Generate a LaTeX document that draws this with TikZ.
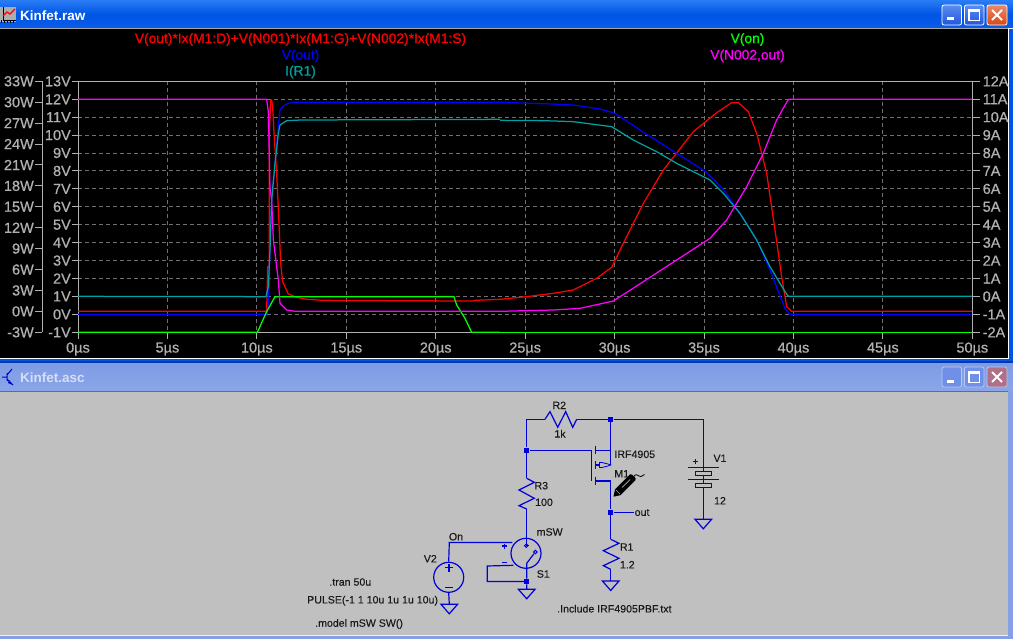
\documentclass[tikz,border=0pt]{standalone}
\usepackage{fontspec}
\setmainfont{Liberation Sans}
\newfontfamily\plotfont[FakeBold=0.7]{Liberation Sans}
\newfontfamily\schemfont[FakeBold=0.15]{Liberation Sans}
\usetikzlibrary{calc}
\definecolor{wire}{HTML}{0000D8}
\definecolor{cya}{HTML}{00A0A0}
\definecolor{axisc}{HTML}{B0B0B0}
\definecolor{gridc}{HTML}{707070}
\definecolor{grn}{HTML}{00FF00}
\definecolor{mag}{HTML}{FF00FF}
\definecolor{schem}{HTML}{C0C0C0}
\definecolor{schtxt}{HTML}{181818}
\definecolor{barA}{HTML}{2A7DF5}
\definecolor{barB}{HTML}{0055E5}
\definecolor{barC}{HTML}{0A5CE8}
\definecolor{edgeA}{HTML}{0055E5}
\definecolor{edgeB}{HTML}{0038B0}
\definecolor{barD}{HTML}{7F9BE4}
\definecolor{barE}{HTML}{8AA6E8}
\definecolor{edgeC}{HTML}{85A0E4}
\definecolor{lineW}{HTML}{F0F0F8}
\definecolor{btnA}{HTML}{5C8DF0}
\definecolor{btnB}{HTML}{2255DD}
\definecolor{btnC}{HTML}{EE8866}
\definecolor{btnD}{HTML}{D84818}
\definecolor{btnE}{HTML}{6F8FE8}
\definecolor{btnF}{HTML}{B07088}
\definecolor{btnG}{HTML}{B8C8F0}
\definecolor{iconb}{HTML}{0000C8}
\tikzset{
 axisline/.style={draw=axisc,line width=1pt},
 gridline/.style={draw=gridc,line width=1pt,dash pattern=on 4pt off 3pt},
 curve/.style={line width=1.25pt,line join=round},
 axlabel/.style={text=axisc,inner sep=0pt,font=\plotfont\fontsize{14.5}{15}\selectfont},
 trlabel/.style={inner sep=0pt,font=\plotfont\fontsize{13.8}{15}\selectfont},
 tlabel/.style={inner sep=0pt,text=schtxt,font=\schemfont\fontsize{10.6}{12}\selectfont},
 wr/.style={draw=wire,line width=1.2pt,line join=miter},
 junc/.style={rectangle,fill=wire,minimum size=5.5pt,inner sep=0pt},
 winbtn/.style={rounded corners=2pt,draw=white,line width=0.8pt},
 gnd/.style={draw=wire,line width=1.2pt,line join=miter},
 titletext/.style={inner sep=0pt,anchor=west,font=\bfseries\fontsize{13.5}{15}\selectfont},
}
\begin{document}
\begin{tikzpicture}[x=1pt,y=-1pt]
\useasboundingbox (0,0) rectangle (1013,639);
% window frames
\fill[black] (0,29) rectangle (1008,358);
\fill[white] (0,358) rectangle (1008,359.3);
\fill[white] (1008,29) rectangle (1009,359.3);
\fill[top color=barA,bottom color=barC,middle color=barB] (0,0) rectangle (1013,28);
\fill[gray!70] (0,28) rectangle (1008,29.3);
\fill[edgeA] (1009,29) rectangle (1013,360);
\fill[edgeA] (0,359.3) rectangle (1013,361);
\fill[edgeB] (0,361) rectangle (1013,363.5);
\fill[top color=barD,bottom color=barE] (0,363.5) rectangle (1013,391);
\fill[gray!85!black] (0,391) rectangle (1008,392.3);
\fill[schem] (0,392.3) rectangle (1008,635);
\fill[edgeC] (1008,391) rectangle (1013,639);
\fill[lineW] (0,635) rectangle (1008,636);
\fill[edgeC] (0,636) rectangle (1013,639);
% title bar 1
\node[titletext,text=white] (title1) at (20,16) {Kinfet.raw};
\fill[gray!65] (0,7) rectangle (16,22);
\foreach \px in {1,4,...,15} {\fill[black] (\px,20) rectangle (\px+1,23);}
\draw[black,line width=0.7pt] (3,7)--(3,20)--(16,20);
\draw[red,line width=1.2pt] (3,16)--(7,12)--(10,14)--(15,9);
\node[titletext,text=btnG!60!white] (title2) at (20,378) {Kinfet.asc};
% transistor icon
\draw[iconb,line width=1pt] (2,377)--(7,377) (7,373)--(7,381) (7,375)--(12,369) (7,379)--(13,385);
\fill[iconb] (9,380) -- (13,385) -- (8,383) -- cycle;
% buttons window 1
\foreach \bx in {942,964.5} {
 \draw[winbtn,top color=btnA,bottom color=btnB] (\bx,5) rectangle (\bx+19.5,25);
}
\draw[winbtn,top color=btnC,bottom color=btnD] (987,5) rectangle (1007,25);
\fill[white] (946.5,17.5) rectangle (953.5,20.5);
\draw[white,line width=1.2pt] (969,10) rectangle (979.5,20.5);
\fill[white] (969,9.5) rectangle (979.5,12);
\draw[white,line width=2pt] (992,10)--(1002,20) (1002,10)--(992,20);
% buttons window 2
\foreach \bx in {942,964.5} {
 \draw[winbtn,draw=btnG,fill=btnE] (\bx,367) rectangle (\bx+19.5,387);
}
\draw[winbtn,draw=btnG,fill=btnF] (987,367) rectangle (1007,387);
\fill[white] (946.5,379.5) rectangle (953.5,382.5);
\draw[white,line width=1.2pt] (969,372) rectangle (979.5,382.5);
\fill[white] (969,371.5) rectangle (979.5,374);
\draw[white,line width=2pt] (992,372)--(1002,382) (1002,372)--(992,382);
% grid
\foreach \k in {1,...,13} {\draw[gridline] (78,{81.3+\k*17.93})--(972.3,{81.3+\k*17.93});}
\foreach \k in {1,...,9} {\draw[gridline] ({78+\k*89.43},81.3)--({78+\k*89.43},332.3);}
% axes
\draw[axisline] (78,81.3) rectangle (972.3,332.3);
\draw[axisline] (42,81.3)--(42,332.3);
\foreach \k [evaluate=\k as \valV using int(13-\k),evaluate=\k as \valA using int(12-\k)] in {0,...,14} {
 \draw[axisline] (72,{81.3+\k*17.93})--(78,{81.3+\k*17.93});
 \draw[axisline] (972.3,{81.3+\k*17.93})--(980,{81.3+\k*17.93});
 \node[axlabel,anchor=east] (vl\k) at (71,{81.3+\k*17.93}) {\valV V};
 \node[axlabel,anchor=west] (al\k) at (982.5,{81.3+\k*17.93}) {\valA A};
}
\foreach \k [evaluate=\k as \valW using int(33-3*\k)] in {0,...,12} {
 \draw[axisline] (35,{81.3+\k*20.917})--(42,{81.3+\k*20.917});
 \node[axlabel,anchor=east] (wl\k) at (34,{81.3+\k*20.917}) {\valW W};
}
\foreach \k [evaluate=\k as \valT using int(5*\k)] in {0,...,10} {
 \draw[axisline] ({78+\k*89.43},332.3)--({78+\k*89.43},339.5);
 \node[axlabel] (xl\k) at ({78+\k*89.43},349) {\valT µs};
}
% curves, left half
\begin{scope}[shift={(230,90)},x=0.33333pt,y=-0.33333pt]
\draw[curve,red] (-456,664)--(110,664)--(113,530)--(118,530)--(118,130)--(122,30)--(125,30)--(128,50)--(132,130)--(140,250)--(147,400)--(152,520)--(158,575)--(175,612)--(200,622)--(230,628)--(280,631)--(700,633)--(730,633)--(735,631)--(810,628);
\draw[curve,blue] (-456,673)--(110,673)--(115,640)--(120,480)--(125,330)--(135,220)--(143,130)--(150,60)--(160,48)--(175,40)--(190,37)--(810,37);
\draw[curve,cya] (-456,619)--(108,620)--(115,590)--(120,480)--(125,330)--(135,220)--(145,130)--(150,105)--(170,92)--(213,90)--(810,88);
\draw[curve,grn] (-456,727)--(82,727)--(110,665)--(135,620)--(672,620)--(680,645)--(705,685)--(725,727)--(810,727);
\draw[curve,mag] (-456,28)--(110,28)--(115,65)--(120,295)--(125,330)--(130,450)--(145,570)--(150,640)--(170,660)--(195,664)--(810,664);
\end{scope}
% curves, right half
\begin{scope}[shift={(500,90)},x=0.33333pt,y=-0.33333pt]
\draw[curve,red] (0,628)--(80,620)--(160,610)--(220,600)--(290,565)--(335,532)--(370,460)--(430,340)--(490,240)--(580,125)--(650,68)--(695,38)--(715,38)--(745,65)--(770,130)--(800,250)--(825,420)--(845,560)--(860,650)--(875,664)--(1416,664);
\draw[curve,blue] (0,37)--(160,42)--(220,45)--(300,57)--(345,70)--(420,120)--(530,190)--(620,247)--(670,298)--(720,370)--(770,450)--(810,540)--(855,655)--(870,673)--(1416,673);
\draw[curve,cya] (0,91)--(130,92)--(220,95)--(335,110)--(400,150)--(470,185)--(530,220)--(630,270)--(670,310)--(720,370)--(770,450)--(810,530)--(855,605)--(865,619)--(1416,619);
\draw[curve,grn] (0,727)--(1416,727);
\draw[curve,mag] (0,664)--(160,660)--(240,655)--(340,633)--(430,575)--(530,510)--(630,445)--(680,390)--(740,290)--(790,190)--(830,90)--(865,28)--(1416,28);
\end{scope}
% trace labels
\node[trlabel,text=red] (t1) at (300.5,39.5) {V(out)*Ix(M1:D)+V(N001)*Ix(M1:G)+V(N002)*Ix(M1:S)};
\node[trlabel,text=blue] (t2) at (300.5,56) {V(out)};
\node[trlabel,text=cya] (t3) at (300.5,72) {I(R1)};
\node[trlabel,text=grn] (t4) at (747.5,39.5) {V(on)};
\node[trlabel,text=mag] (t5) at (747.5,56) {V(N002,out)};
% schematic nodes
\node[junc] (jtop) at (610.7,419.3) {};
\node[junc] (jgate) at (526.7,450.3) {};
\node[junc] (jout) at (610.7,512.3) {};
\node[junc] (jsw) at (526.7,581.5) {};
\coordinate (tl) at (526.7,419.3);
\coordinate (tr) at (703.3,419.3);
\coordinate (r2a) at (545,419.3);
\coordinate (r2b) at (576.7,419.3);
\coordinate (g1) at (591.7,450.3);
\coordinate (g2) at (591.7,481);
\coordinate (dd) at (610.7,450.3);
\coordinate (bb) at (610.7,465);
\coordinate (ss) at (610.7,481);
\coordinate (r1a) at (610.7,539.3);
\coordinate (r1b) at (610.7,569.3);
\coordinate (g1top) at (610.7,581);
\coordinate (outend) at (634,512.3);
\coordinate (v1a) at (703.3,467.3);
\coordinate (v1b) at (703.3,487.3);
\coordinate (g2top) at (703.3,519.3);
\coordinate (r3a) at (526.7,478.3);
\coordinate (r3b) at (526.7,509);
\coordinate (swtop) at (526.7,545.7);
\coordinate (swlev) at (526.7,563.3);
\coordinate (g3top) at (526.7,589.3);
\coordinate (on) at (449.3,542.5);
\coordinate (swp) at (512.3,542.5);
\coordinate (swn) at (513.3,565.3);
\coordinate (nc1) at (487.3,566);
\coordinate (nc2) at (487.3,581.5);
\coordinate (v2bot) at (449.3,604.3);
% circles
\node[circle,draw=wire,line width=1.2pt,minimum size=30pt,inner sep=0pt] (sw) at (526,553.3) {};
\node[circle,draw=wire,line width=1.2pt,minimum size=30pt,inner sep=0pt] (v2) at (448.7,577.3) {};
\node[circle,draw=wire,line width=1pt,minimum size=3.5pt,inner sep=0pt] (ct1) at (526.3,545.7) {};
\node[circle,draw=wire,line width=1pt,minimum size=3.5pt,inner sep=0pt] (ct2) at (535.3,552) {};
% wires
\draw[wr] (r2a)--(tl)--(jgate) (r2b)--(jtop)--(tr)--(v1a);
\draw[wr] (jgate)--(g1)--(g2);
\draw[wr] (jtop)--(dd)--(bb) (ss)--(jout)--(r1a) (jout)--(outend) (r1b)--(g1top);
\draw[wr] (jgate)--(r3a) (r3b)--(swtop)--(ct1);
\draw[wr] (ct2)--(swlev)--(jsw)--(g3top);
\draw[wr] (v2.north)--(on)--(swp);
\draw[wr] (swn)--(nc1)--(nc2)--(jsw);
\draw[wr] (v2.south)--(v2bot);
\draw[wr] (v1a)--(v1b)--(g2top);
% resistors
\draw[wr] (r2a)--(550,411.6)--(557.7,427.3)--(565.7,411.6)--(572.7,427.3)--(r2b);
\draw[wr] (r3a)--(534.3,482.3)--(519,490)--(534.3,498.3)--(519,505.7)--(r3b);
\draw[wr] (r1a)--(619,543.3)--(603.3,550.7)--(619,558.3)--(603.3,565.7)--(r1b);
% mosfet
\draw[wr] (595.7,445.7)--(595.7,454.3) (595.7,461)--(595.7,469) (595.7,476.7)--(595.7,485);
\draw[wr] (595.7,450.3)--(dd) (595.7,481)--(ss);
\draw[wr] (595.7,465)--(599.5,465);
\draw[wr,line width=0.8pt,fill=schem] (603,462.8)--(599.5,462.8)--(599.5,467.2)--(603,467.2);
\draw[wr,line width=0.8pt,fill=schem] (603,462.8)--(608,464)--(bb)--(608,466)--(603,467.2);
% battery
\draw[wr] (688.3,467.3)--(719,467.3) (688.3,479.3)--(719,479.3);
\draw[wr,fill=schem] (695.7,471.3) rectangle (711.7,475.3);
\draw[wr,fill=schem] (695.7,483.3) rectangle (711.7,487.3);
\draw[wr] (693,461.7)--(698.4,461.7) (695.7,459)--(695.7,464.4);
% grounds
\draw[gnd] (g1top)++(-8.3,0)--++(16.6,0)--++(-8.3,9.5)--cycle;
\draw[gnd] (g2top)++(-8.3,0)--++(16.6,0)--++(-8.3,9.5)--cycle;
\draw[gnd] (g3top)++(-8.3,0)--++(16.6,0)--++(-8.3,9.5)--cycle;
\draw[gnd] (v2bot)++(-8.3,0)--++(16.6,0)--++(-8.3,9.5)--cycle;
% source and switch polarity marks
\draw[wr] (445,567.7)--(453,567.7) (449,563.7)--(449,571.7) (445,587.3)--(453,587.3);
\draw[wr] (502.2,546)--(507.2,546) (504.7,543.5)--(504.7,548.5) (502.2,562.3)--(507.2,562.3);
% probe cursor
\draw[black,line width=0.8pt] (632.7,477.7)..controls (636,473) and (637,475) .. (639,476) ..controls (642,478) and (643,474) .. (644.5,474.5);
\fill[black] (613.5,496.7)--(615,489.3)--(630,474.3)--(632,474.6)--(635.6,478.2)--(635.4,480.2)--(620.4,495.2)--cycle;
\draw[gray!60,line width=0.7pt] (622,487.5)--(630,479.5);
\draw[gray!70,line width=0.6pt] (616,490)--(620,494);
% schematic labels
\node[tlabel] (lr2) at (559.3,405.3) {R2};
\node[tlabel] (lr2v) at (560,433.7) {1k};
\node[tlabel,anchor=west] (lm) at (614.3,454.3) {IRF4905};
\node[tlabel] (lm1) at (621.7,473.7) {M1};
\node[tlabel,anchor=west] (lout) at (634.5,512.5) {out};
\node[tlabel] (lv1) at (720,458.3) {V1};
\node[tlabel] (lv1v) at (720,500.7) {12};
\node[tlabel] (lr3) at (541.3,485.7) {R3};
\node[tlabel] (lr3v) at (544,502.3) {100};
\node[tlabel] (lmsw) at (549.7,532) {mSW};
\node[tlabel] (ls1) at (543.3,574) {S1};
\node[tlabel] (lr1) at (626.7,547) {R1};
\node[tlabel] (lr1v) at (627.3,564.7) {1.2};
\node[tlabel] (lon) at (456,536.7) {On};
\node[tlabel] (lv2) at (430.3,558.7) {V2};
\node[tlabel] (ltran) at (350.3,582) {.tran 50u};
\node[tlabel,anchor=west] (lpulse) at (307,600.7) {PULSE(-1 1 10u 1u 1u 10u)};
\node[tlabel,anchor=west] (lmodel) at (315,624) {.model mSW SW()};
\node[tlabel,anchor=west] (linc) at (557,608.7) {.Include IRF4905PBF.txt};
\end{tikzpicture}
\end{document}
